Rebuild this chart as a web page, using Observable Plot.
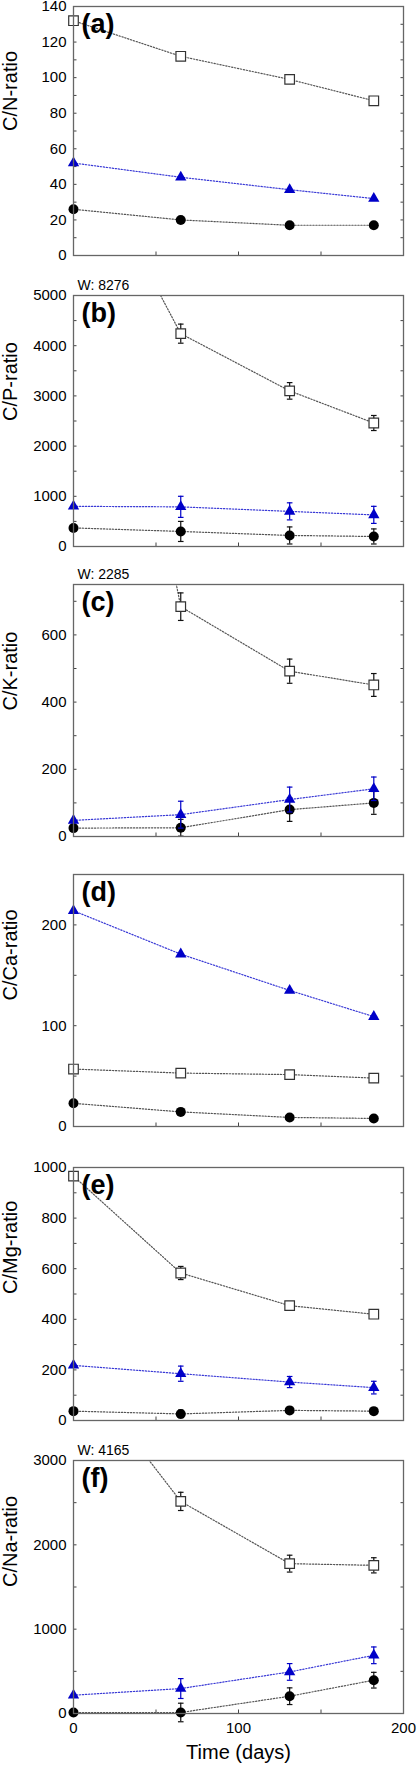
<!DOCTYPE html>
<html><head><meta charset="utf-8">
<script src="https://cdn.jsdelivr.net/npm/d3@7"></script>
<script src="https://cdn.jsdelivr.net/npm/@observablehq/plot@0.6"></script>
<style>
body{margin:0;background:#fff;}
#chart{width:419px;}
#chart svg{display:block;}
</style></head><body><div id="chart"></div>
<script>
// ---- data ----
const days = [0, 65, 131, 182];
const panelTags = ["(a)", "(b)", "(c)", "(d)", "(e)", "(f)"];
const yLabels = ["C/N-ratio", "C/P-ratio", "C/K-ratio", "C/Ca-ratio", "C/Mg-ratio", "C/Na-ratio"];
const yMax = [140, 5000, 750, 250, 1000, 3000];
const yTickLabels = [
  [0, 20, 40, 60, 80, 100, 120, 140],
  [0, 1000, 2000, 3000, 4000, 5000],
  [0, 200, 400, 600],
  [0, 100, 200],
  [0, 200, 400, 600, 800, 1000],
  [0, 1000, 2000, 3000]
];
const yMinorStep = [10, 500, 100, 50, 100, 500];
const xTickLabels = [0, 100, 200];
const xMinorTicks = [50, 100, 150];
const wLabels = ["", "W: 8276", "W: 2285", "", "", "W: 4165"];

// open squares
const squareVals = [
  [132, 112, 99, 87],
  [8276, 4240, 3100, 2460],
  [2285, 684, 492, 451],
  [57, 53, 51.5, 48],
  [966, 583, 454, 420],
  [4165, 2515, 1777, 1757]
];
const squareErr = [
  [0, 0, 0, 0],
  [0, 190, 165, 150],
  [0, 41, 36, 34],
  [0, 0, 0, 0],
  [0, 26, 15, 15],
  [0, 108, 100, 90]
];
// blue triangles
const triVals = [
  [52, 44, 37, 32],
  [800, 790, 700, 630],
  [48, 65, 110, 142],
  [214, 171, 135, 109],
  [218, 185, 152, 130],
  [217, 296, 493, 690]
];
const triErr = [
  [0, 0, 0, 0],
  [0, 210, 170, 170],
  [0, 40, 37, 35],
  [0, 0, 0, 0],
  [0, 30, 22, 25],
  [0, 118, 99, 99]
];
// filled circles
const circVals = [
  [26, 20, 17, 17],
  [370, 300, 220, 200],
  [25, 26, 80, 100],
  [23, 14.5, 9, 8],
  [37, 26, 40, 37],
  [12, 12, 205, 395]
];
const circErr = [
  [0, 0, 0, 0],
  [0, 200, 170, 150],
  [0, 25, 35, 34],
  [0, 0, 0, 0],
  [0, 15, 10, 10],
  [0, 110, 99, 93]
];

// ---- layout ----
const layout = [
  {mt: 6, h: 265, mb: 10},
  {mt: 30, h: 291, mb: 10},
  {mt: 28, h: 290, mb: 10},
  {mt: 28, h: 290, mb: 10},
  {mt: 31, h: 294, mb: 10},
  {mt: 30, h: 340, mb: 57}
];
const FONT = "'Liberation Sans', Arial, Helvetica, sans-serif";
const BLUE = "#0000c8";
const BLUE_LINE = "#3a3ad6";
const capSymbol = {draw(ctx) { ctx.moveTo(-2.8, 0); ctx.lineTo(2.8, 0); }};
const fmt = d3.format("d");

function rows(vals, errs) {
  return days.map((d, i) => ({day: d, v: vals[i], e: errs[i]}));
}

function seriesMarks(data, max, color, lineColor, dotOpts) {
  const withErr = data.filter(d => d.e > 0);
  const caps = withErr.flatMap(d => [{day: d.day, y: d.v - d.e}, {day: d.day, y: d.v + d.e}]);
  return [
    Plot.line(data, {x: "day", y: "v", stroke: lineColor, strokeWidth: 1.2, strokeDasharray: "1.3,1.7", clip: true}),
    Plot.ruleX(withErr, {x: "day", y1: d => d.v - d.e, y2: d => d.v + d.e, stroke: color, strokeWidth: 1.2}),
    Plot.dot(caps, {x: "day", y: "y", symbol: capSymbol, stroke: color, strokeWidth: 1.2, fill: "none"}),
    Plot.dot(data.filter(d => d.v <= max), {x: "day", y: "v", ...dotOpts})
  ];
}

const chart = document.getElementById("chart");

for (let i = 0; i < 6; i++) {
  const L = layout[i];
  const max = yMax[i];
  const minor = d3.range(0, max + 1e-9, yMinorStep[i]);
  const sq = rows(squareVals[i], squareErr[i]);
  const tr = rows(triVals[i], triErr[i]);
  const ci = rows(circVals[i], circErr[i]);
  const last = i === 5;

  const marks = [
    Plot.axisY(yTickLabels[i], {tickSize: 0, tickPadding: 7, fontSize: 15, label: null, fill: "black", tickFormat: fmt}),
    Plot.axisY(minor, {tickSize: -3.5, fill: "none", label: null, stroke: "#444"}),
    Plot.axisY(minor, {anchor: "right", tickSize: -3.5, fill: "none", label: null, stroke: "#444"}),
    Plot.axisX(xMinorTicks, {tickSize: -3.5, fill: "none", label: null, stroke: "#444"}),
    ...(last ? [Plot.axisX(xTickLabels, {tickSize: 0, tickPadding: 9, fontSize: 15, label: null, fill: "black", tickFormat: fmt})] : []),
    ...seriesMarks(ci, max, "#111", "#555", {r: 5, symbol: "circle", fill: "black"}),
    ...seriesMarks(tr, max, BLUE, BLUE_LINE, {r: 4.2, symbol: "triangle", fill: BLUE}),
    ...seriesMarks(sq, max, "#111", "#555", {r: 5.4, symbol: "square", fill: "white", stroke: "#333", strokeWidth: 1.2}),
    Plot.frame({stroke: "#666", strokeWidth: 1.3}),
    Plot.text([panelTags[i]], {frameAnchor: "top-left", textAnchor: "start", lineAnchor: "top", dx: 8, dy: 7, fontSize: 27, fontWeight: "bold", text: d => d, fill: "black"}),
    Plot.text([yLabels[i]], {frameAnchor: "left", rotate: -90, dx: -63, fontSize: 20, text: d => d, fill: "black"}),
    Plot.text([wLabels[i]].filter(d => d), {frameAnchor: "top-left", textAnchor: "start", dx: 4, dy: -15, fontSize: 14, text: d => d, fill: "black"})
  ];
  if (last) {
    marks.push(Plot.text(["Time (days)"], {frameAnchor: "bottom", dy: 45, fontSize: 20, text: d => d, fill: "black"}));
  }

  const svg = Plot.plot({
    width: 419,
    height: L.h,
    marginLeft: 73,
    marginRight: 16,
    marginTop: L.mt,
    marginBottom: L.mb,
    x: {domain: [0, 200]},
    y: {domain: [0, max]},
    style: {fontFamily: FONT, background: "white", color: "black", overflow: "visible"},
    marks
  });
  chart.appendChild(svg);
}
</script>
</body></html>
